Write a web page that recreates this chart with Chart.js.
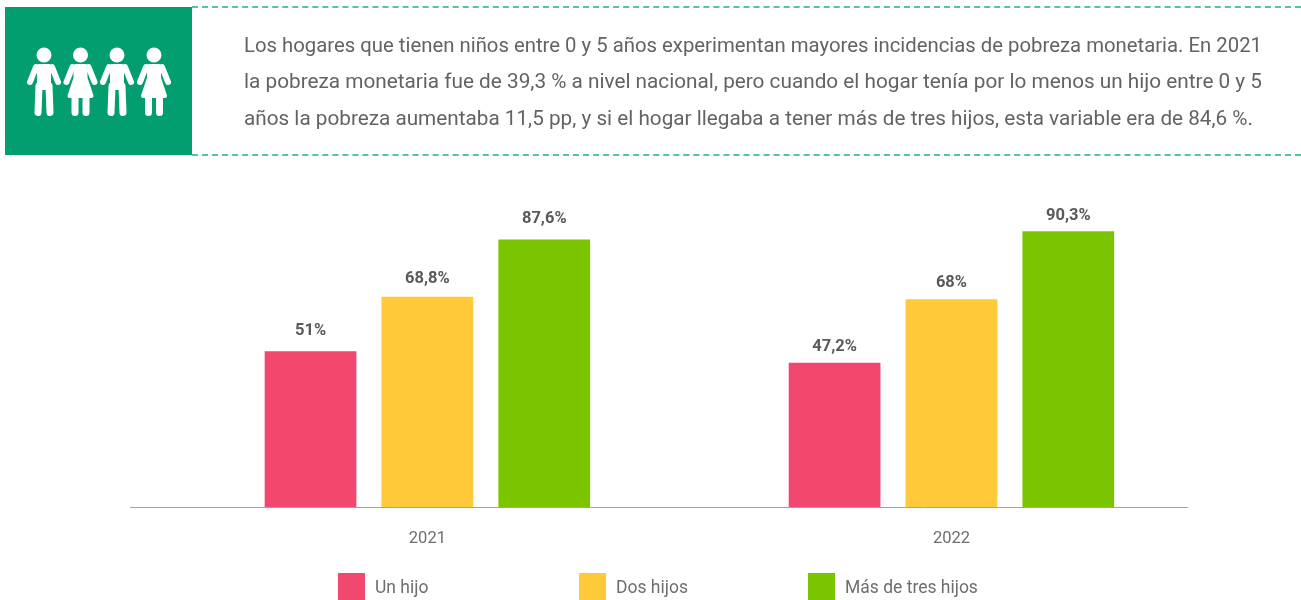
<!DOCTYPE html>
<html lang="es">
<head>
<meta charset="utf-8">
<script src="https://cdn.jsdelivr.net/npm/chart.js@4"></script>
<style>
html,body{margin:0;padding:0;background:#fff;width:1301px;height:600px;overflow:hidden;font-family:Roboto,sans-serif}
#box{position:absolute;left:5px;top:7px;width:187px;height:148px;background:#029e6f}
#icon{position:absolute;left:0;top:0}
.dash{position:absolute;left:192px;width:1109px;height:0;border-top:2px dashed #55c4a2}
.line{position:absolute;left:244px;white-space:nowrap;font-size:20.5px;line-height:26px;color:#626366;transform-origin:left top}
#wrap{position:absolute;left:0;top:0;width:1301px;height:600px}
.lg{position:absolute;top:573px;width:27px;height:27px}
.lt{position:absolute;top:576px;font-size:17.5px;line-height:22px;color:#6d6e71;white-space:nowrap}
</style>
</head>
<body>
<div id="wrap"><canvas id="c" width="1301" height="600"></canvas></div>
<div id="box"></div>
<svg id="icon" width="200" height="160" viewBox="0 0 200 160">
  <defs>
    <g id="male" fill="#fff" stroke="#fff" stroke-linecap="round" stroke-linejoin="round">
      <circle cx="0" cy="55" r="7.500" stroke="none"/>
      <path d="M-5 66H5V88H-5Z" stroke-width="4"/>
      <path d="M-8 67L-14 82M8 67L14 82" stroke-width="6" fill="none"/>
      <path d="M-5 86L-6 112.500M5 86L6 112.500" stroke-width="7" fill="none"/>
    </g>
    <g id="female" fill="#fff" stroke="#fff" stroke-linecap="round" stroke-linejoin="round">
      <circle cx="0" cy="55" r="7.500" stroke="none"/>
      <path d="M-5 66H5V78L11 96H-11L-5 78Z" stroke-width="4"/>
      <path d="M-8 67L-14 82M8 67L14 82" stroke-width="6" fill="none"/>
      <path d="M-5.500 96V112.500M5.500 96V112.500" stroke-width="7" fill="none"/>
    </g>
  </defs>
  <use href="#male" x="44"/><use href="#female" x="80.500"/><use href="#male" x="117"/><use href="#female" x="154"/>
</svg>
<div class="dash" style="top:6px"></div>
<div class="dash" style="top:154px"></div>
<div class="line" id="l0" style="top:32px">Los hogares que tienen niños entre 0 y 5 años experimentan mayores incidencias de pobreza monetaria. En 2021</div>
<div class="line" id="l1" style="top:68px">la pobreza monetaria fue de 39,3 % a nivel nacional, pero cuando el hogar tenía por lo menos un hijo entre 0 y 5</div>
<div class="line" id="l2" style="top:105px">años la pobreza aumentaba 11,5 pp, y si el hogar llegaba a tener más de tres hijos, esta variable era de 84,6 %.</div>
<div id="legend"></div>
<script>
const years = [2021, 2022];
const seriesNames = ['Un hijo', 'Dos hijos', 'Más de tres hijos'];
const unHijo = [51, 47.2];
const dosHijos = [68.8, 68];
const masDeTres = [87.6, 90.3];
const seriesColors = ['#f2476f', '#ffc93a', '#7ac400'];
const valueLabels = [['51%', '47,2%'], ['68,8%', '68%'], ['87,6%', '90,3%']];
const labelBaselineGaps = [[16, 12], [14, 12], [16, 11]];
const legendBox = [338, 579, 808];

// fit each text line to the width measured on the reference
[['l0', 1018], ['l1', 1018], ['l2', 1009]].forEach(function (p) {
  const el = document.getElementById(p[0]);
  el.style.transform = 'scaleX(' + (p[1] / el.getBoundingClientRect().width) + ')';
});

const legendEl = document.getElementById('legend');
seriesNames.forEach(function (n, i) {
  const s = document.createElement('div');
  s.className = 'lg'; s.style.left = legendBox[i] + 'px'; s.style.background = seriesColors[i];
  const t = document.createElement('div');
  t.className = 'lt'; t.style.left = (legendBox[i] + 37) + 'px'; t.textContent = n;
  legendEl.appendChild(s); legendEl.appendChild(t);
});

const valueLabelPlugin = {
  id: 'valueLabels',
  afterDatasetsDraw: function (chart) {
    const ctx = chart.ctx;
    ctx.save();
    ctx.font = '700 16.5px Roboto, sans-serif';
    ctx.fillStyle = '#58595b';
    ctx.textAlign = 'center';
    ctx.textBaseline = 'alphabetic';
    chart.data.datasets.forEach(function (ds, d) {
      chart.getDatasetMeta(d).data.forEach(function (bar, i) {
        ctx.fillText(valueLabels[d][i], bar.x, bar.y - labelBaselineGaps[d][i]);
      });
    });
    ctx.restore();
  }
};

const series = [unHijo, dosHijos, masDeTres];
new Chart(document.getElementById('c'), {
  type: 'bar',
  data: {
    datasets: series.map(function (vals, i) {
      return {
        label: seriesNames[i],
        data: vals.map(function (v, k) { return { x: years[k], y: v }; }),
        backgroundColor: seriesColors[i],
        borderWidth: 0,
        categoryPercentage: 0.669,
        barPercentage: 0.785
      };
    })
  },
  options: {
    responsive: false,
    animation: false,
    layout: { padding: { left: 130, right: 114, top: 201.5, bottom: 0 } },
    plugins: { legend: { display: false }, tooltip: { enabled: false } },
    scales: {
      x: {
        type: 'linear',
        offset: false,
        min: 2020.4325,
        max: 2022.4495,
        grid: { display: false },
        border: { display: true, color: '#a3a3a3', width: 1 },
        afterFit: function (s) { s.height = 93; },
        ticks: {
          stepSize: 1,
          includeBounds: false,
          autoSkip: false,
          maxRotation: 0,
          padding: 14,
          color: '#6d6e71',
          font: { family: 'Roboto, sans-serif', size: 16.5 },
          callback: function (v) { return String(v); }
        }
      },
      y: { display: false, min: 0, max: 100 }
    }
  },
  plugins: [valueLabelPlugin]
});
</script>
</body>
</html>
